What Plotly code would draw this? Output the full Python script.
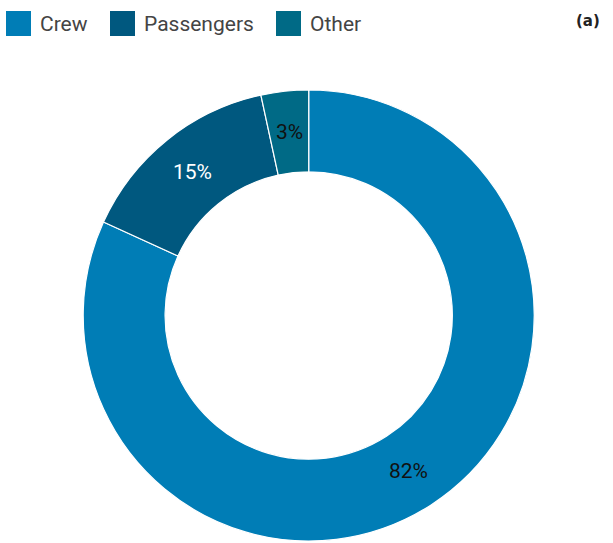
import math
import plotly.graph_objects as go

categories = ["Crew", "Passengers", "Other"]
values = [81.8, 14.8, 3.4]
colors = ["#007db6", "#00587f", "#006a86"]
text_colors = ["#111111", "#ffffff", "#111111"]
panel_label = "(a)"

W, H = 613, 543
HOLE = 0.637
DOM_X = [82.7 / W, 534.7 / W]
DOM_Y = [(H - 541) / H, (H - 90) / H]

fig = go.Figure()
fig.add_trace(go.Pie(
    labels=categories,
    values=values,
    hole=HOLE,
    sort=False,
    direction="clockwise",
    rotation=0,
    marker=dict(colors=colors, line=dict(color="white", width=1.2)),
    textinfo="none",
    showlegend=False,
    hoverinfo="label+percent",
    domain=dict(x=DOM_X, y=DOM_Y),
))

annotations = []
shapes = []

# percentage labels at mid-radius / mid-angle of each slice
total = sum(values)
cx = (DOM_X[0] + DOM_X[1]) / 2 * W
cy = (DOM_Y[0] + DOM_Y[1]) / 2 * H
R = min((DOM_X[1] - DOM_X[0]) * W, (DOM_Y[1] - DOM_Y[0]) * H) / 2
r_mid = R * (1 + HOLE) / 2
cum = 0.0
for i, v in enumerate(values):
    frac = v / total
    ang = 2 * math.pi * (cum + frac / 2)
    cum += frac
    px = cx + r_mid * math.sin(ang)
    py = cy + r_mid * math.cos(ang)
    annotations.append(dict(
        text=f"{round(frac * 100)}%", xref="paper", yref="paper",
        x=px / W, y=py / H, xanchor="center", yanchor="middle",
        showarrow=False,
        font=dict(family="Roboto", size=21, color=text_colors[i])))

# custom legend built from categories/colors
sw_x = [6, 110, 276]
for i, (cat, col) in enumerate(zip(categories, colors)):
    x0 = sw_x[i]
    shapes.append(dict(type="rect", xref="paper", yref="paper",
                       x0=x0 / W, x1=(x0 + 25) / W,
                       y0=1 - 36 / H, y1=1 - 11 / H,
                       fillcolor=col, line=dict(width=0)))
    annotations.append(dict(text=cat, xref="paper", yref="paper",
                            x=(x0 + 32) / W, y=1 - 23.5 / H,
                            xanchor="left", yanchor="middle", showarrow=False,
                            font=dict(family="Roboto", size=21, color="#444444")))
annotations.append(dict(text="<b>" + panel_label + "</b>", xref="paper", yref="paper",
                        x=602 / W, y=1 - 21 / H, xanchor="right", yanchor="middle",
                        showarrow=False,
                        font=dict(family="DejaVu Sans", size=15, color="#222222")))

fig.update_layout(
    width=W, height=H,
    margin=dict(l=0, r=0, t=0, b=0),
    paper_bgcolor="white",
    plot_bgcolor="white",
    shapes=shapes,
    annotations=annotations,
)

fig.write_html("out.html", config={"displayModeBar": False},
               post_script="document.body.style.margin='0px';")
